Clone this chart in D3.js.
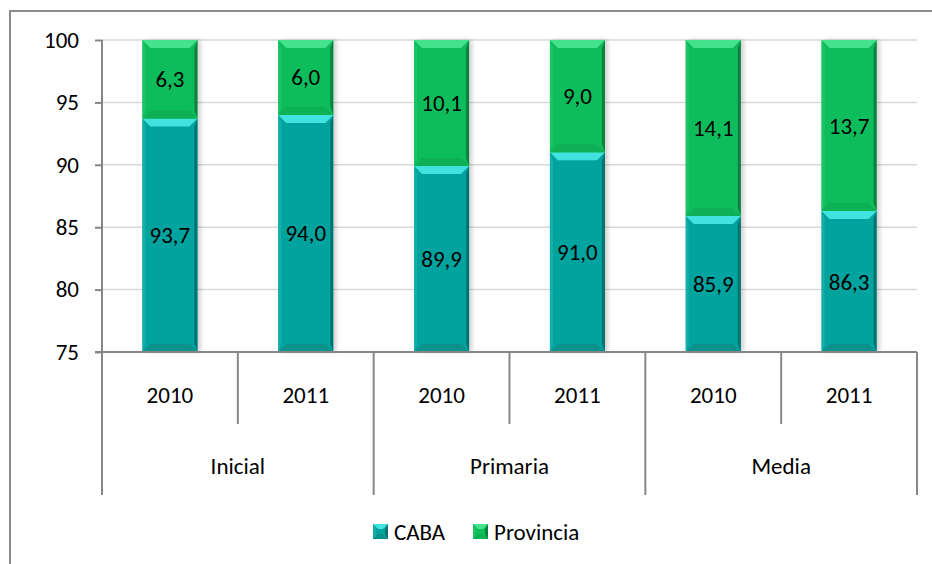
<!DOCTYPE html>
<html>
<head>
<meta charset="utf-8">
<script src="https://cdn.jsdelivr.net/npm/d3@7/dist/d3.min.js"></script>
<style>
  body { margin: 0; background: #fff; }
  svg { display: block; font-family: Calibri, Carlito, Lato, sans-serif; }
</style>
</head>
<body>
<div id="chart"></div>
<script>
// datos
var niveles = ["Inicial", "Primaria", "Media"];
var anios = ["2010", "2011", "2010", "2011", "2010", "2011"];
var caba = [93.7, 94.0, 89.9, 91.0, 85.9, 86.3];
var provincia = [6.3, 6.0, 10.1, 9.0, 14.1, 13.7];
var yTicks = [75, 80, 85, 90, 95, 100];

var W = 932, H = 564;
var margin = {top: 40, left: 102, right: 15, bottom: 212};
var plotR = W - margin.right, plotB = H - margin.bottom;
var fs = 23;

var colores = {
  caba: {base: "#06a39e", top: "#3fe3e0", bot: "#07918c", left: "#14aea8", right: "#067270"},
  prov: {base: "#0fbd5b", top: "#45e28e", bot: "#0eb055", left: "#1dc463", right: "#0a8040"}
};

var svg = d3.select("#chart").append("svg")
  .attr("width", W).attr("height", H);

var defs = svg.append("defs");
var f = defs.append("filter").attr("id", "sombra")
  .attr("x", "-20%").attr("y", "-5%").attr("width", "140%").attr("height", "110%");
f.append("feDropShadow").attr("dx", 3).attr("dy", 0).attr("stdDeviation", 2)
  .attr("flood-color", "#000").attr("flood-opacity", 0.18);

// borde exterior
svg.append("rect").attr("x", 10).attr("y", 11).attr("width", 960).attr("height", 600)
  .attr("fill", "none").attr("stroke", "#8c8c8c").attr("stroke-width", 2);

var idx = d3.range(caba.length);
var x = d3.scaleBand().domain(idx).range([margin.left, plotR])
  .paddingInner(0.595).paddingOuter(0.2975);
var step = x.step();
var y = d3.scaleLinear().domain([75, 100]).range([plotB, margin.top]);

// grilla
svg.append("g").selectAll("line").data(yTicks.filter(function(d){ return d > 75; }))
  .enter().append("line")
  .attr("x1", margin.left).attr("x2", plotR)
  .attr("y1", function(d){ return y(d); }).attr("y2", function(d){ return y(d); })
  .attr("stroke", "#d9d9d9").attr("stroke-width", 1.5);

// eje y
var yAxis = svg.append("g").attr("transform", "translate(" + margin.left + ",0)")
  .call(d3.axisLeft(y).tickValues(yTicks).tickSize(7).tickPadding(16));
yAxis.select(".domain").remove();
yAxis.selectAll(".tick line").attr("stroke", "#868686").attr("stroke-width", 2);
yAxis.selectAll(".tick text").attr("font-size", fs).attr("fill", "#000")
  .attr("font-family", "Calibri, Carlito, Lato, sans-serif");

// barras
function bevel(g, x0, y0, w, h, c, b) {
  b = Math.min(b || 8, h / 2);
  var s = 3;
  g.append("rect").attr("x", x0).attr("y", y0).attr("width", w).attr("height", h).attr("fill", c.base);
  g.append("polygon").attr("fill", c.left)
    .attr("points", [[x0, y0], [x0 + s, y0 + b], [x0 + s, y0 + h - b], [x0, y0 + h]].join(" "));
  g.append("polygon").attr("fill", c.right)
    .attr("points", [[x0 + w, y0], [x0 + w - s, y0 + b], [x0 + w - s, y0 + h - b], [x0 + w, y0 + h]].join(" "));
  g.append("polygon").attr("fill", c.top)
    .attr("points", [[x0, y0], [x0 + w, y0], [x0 + w - b, y0 + b], [x0 + b, y0 + b]].join(" "));
  g.append("polygon").attr("fill", c.bot)
    .attr("points", [[x0, y0 + h], [x0 + w, y0 + h], [x0 + w - b, y0 + h - b], [x0 + b, y0 + h - b]].join(" "));
}

var fmt = function(v){ return d3.format(".1f")(v).replace(".", ","); };
var barras = svg.append("g");
idx.forEach(function(i) {
  var g = barras.append("g").attr("filter", "url(#sombra)");
  var bx = x(i), bw = x.bandwidth();
  bevel(g, bx, y(caba[i]), bw, y(75) - y(caba[i]), colores.caba);
  bevel(g, bx, y(caba[i] + provincia[i]), bw, y(caba[i]) - y(caba[i] + provincia[i]), colores.prov);
});
idx.forEach(function(i) {
  var cx = x(i) + x.bandwidth() / 2;
  barras.append("text").attr("x", cx).attr("y", (y(75) + y(caba[i])) / 2)
    .attr("dy", "0.35em").attr("text-anchor", "middle").attr("font-size", fs).text(fmt(caba[i]));
  barras.append("text").attr("x", cx).attr("y", (y(caba[i]) + y(caba[i] + provincia[i])) / 2)
    .attr("dy", "0.35em").attr("text-anchor", "middle").attr("font-size", fs).text(fmt(provincia[i]));
});

// eje x multinivel
var ax = svg.append("g").attr("stroke", "#868686").attr("stroke-width", 2);
ax.append("line").attr("x1", margin.left).attr("x2", margin.left).attr("y1", margin.top).attr("y2", 495);
ax.append("line").attr("x1", margin.left - 7).attr("x2", plotR).attr("y1", plotB).attr("y2", plotB);
d3.range(1, caba.length + 1).forEach(function(k) {
  var xx = margin.left + k * step;
  ax.append("line").attr("x1", xx).attr("x2", xx).attr("y1", plotB)
    .attr("y2", k % 2 === 0 ? 495 : 424);
});

svg.append("g").selectAll("text").data(anios).enter().append("text")
  .attr("x", function(d, i){ return x(i) + x.bandwidth() / 2; })
  .attr("y", 395).attr("dy", "0.35em").attr("text-anchor", "middle")
  .attr("font-size", fs).text(function(d){ return d; });

svg.append("g").selectAll("text").data(niveles).enter().append("text")
  .attr("x", function(d, i){ return margin.left + (2 * i + 1) * step; })
  .attr("y", 466).attr("dy", "0.35em").attr("text-anchor", "middle")
  .attr("font-size", fs).text(function(d){ return d; });

// leyenda
var leyenda = [{n: "CABA", c: colores.caba, x: 373}, {n: "Provincia", c: colores.prov, x: 473}];
leyenda.forEach(function(l) {
  var g = svg.append("g");
  bevel(g, l.x, 524, 15, 15, l.c, 5);
  g.append("text").attr("x", l.x + 21).attr("y", 532).attr("dy", "0.35em")
    .attr("font-size", fs).text(l.n);
});
</script>
</body>
</html>
